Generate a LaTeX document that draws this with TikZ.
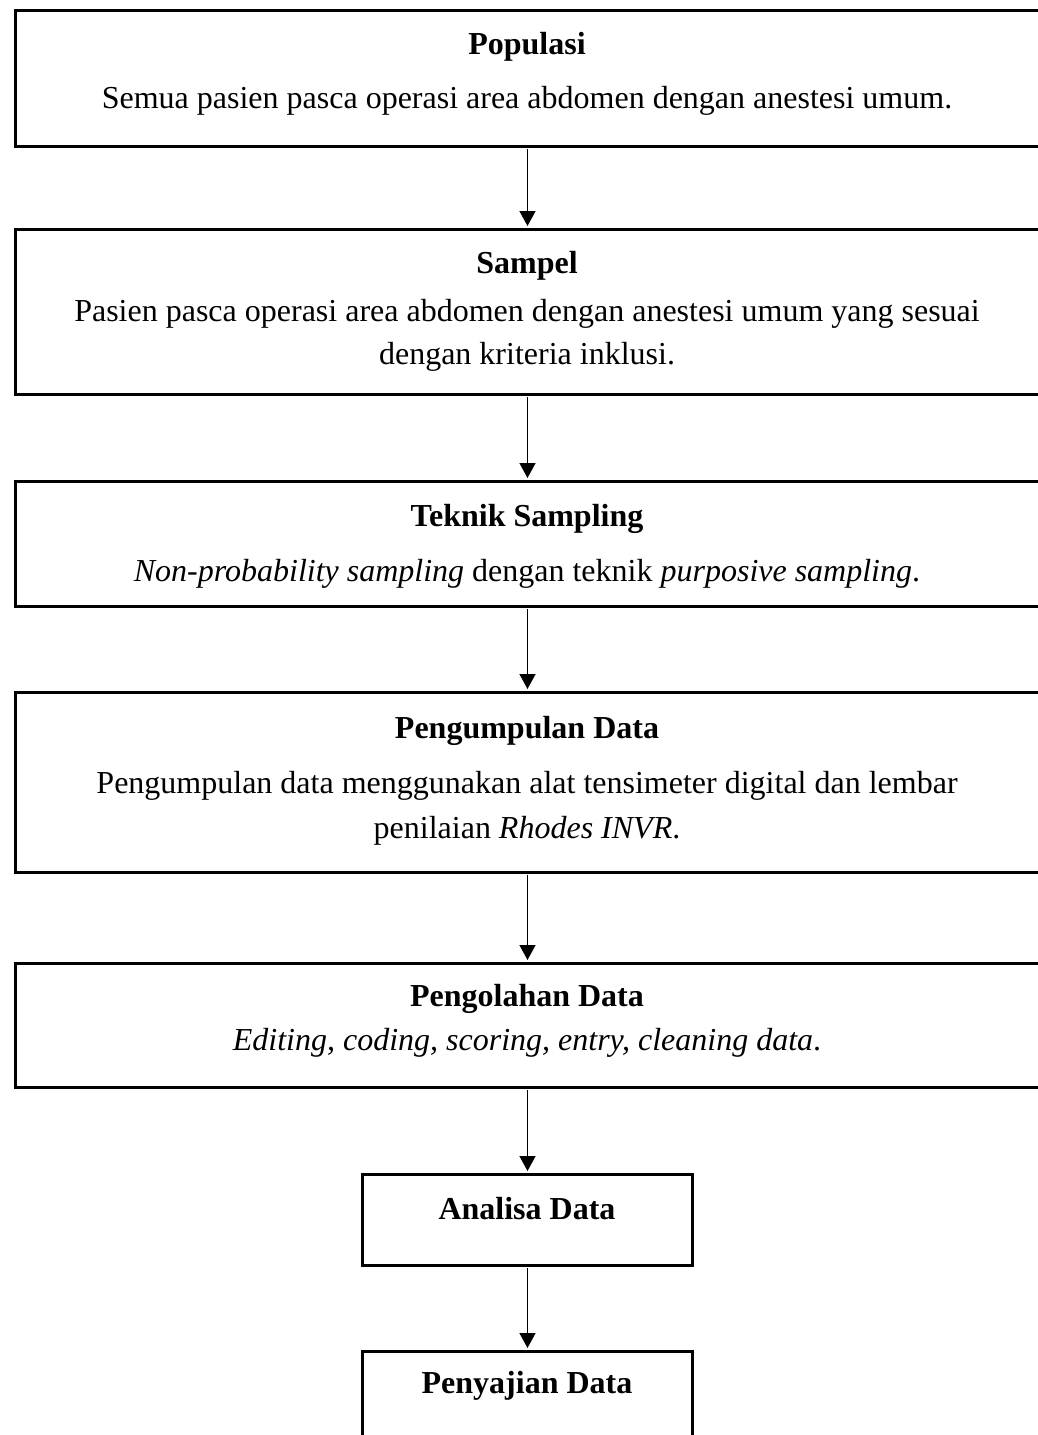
\documentclass[tikz,border=0pt]{standalone}
\usepackage{fontspec}
\setmainfont{Liberation Serif}
\usetikzlibrary{arrows.meta}
\begin{document}
\begin{tikzpicture}[x=1pt,y=-1pt,
  box/.style={draw=black, line width=3pt, rectangle, inner sep=0pt, fill=none},
  txt/.style={anchor=base, inner sep=0pt, font=\fontsize{32}{38}\selectfont},
  ttl/.style={txt, font=\fontsize{32}{38}\selectfont\bfseries},
  arr/.style={line width=1.4pt, -{Triangle[width=16pt,length=15pt]}, shorten >=1.5pt, shorten <=1.5pt}]
\useasboundingbox (0,0) rectangle (1038,1435);
\begin{scope}
\clip (0,0) rectangle (1038,1435);
\node[box, minimum width=1025pt, minimum height=136pt] (b1) at (527.5,78) {};
\node[box, minimum width=1025pt, minimum height=165pt] (b2) at (527.5,311.5) {};
\node[box, minimum width=1025pt, minimum height=125pt] (b3) at (527.5,543.5) {};
\node[box, minimum width=1025pt, minimum height=180pt] (b4) at (527.5,782) {};
\node[box, minimum width=1025pt, minimum height=124pt] (b5) at (527.5,1025) {};
\node[box, minimum width=330pt, minimum height=91pt] (b6) at (527.5,1219.5) {};
\node[box, minimum width=330pt, minimum height=110pt] (b7) at (527.5,1406) {};
\end{scope}

\node[ttl] (t1) at (527,54) {Populasi};
\node[txt] (s1) at (527,108) {Semua pasien pasca operasi area abdomen dengan anestesi umum.};

\node[ttl] (t2) at (527,273) {Sampel};
\node[txt] (s2a) at (527,321) {Pasien pasca operasi area abdomen dengan anestesi umum yang sesuai};
\node[txt] (s2b) at (527,364) {dengan kriteria inklusi.};

\node[ttl] (t3) at (527,526) {Teknik Sampling};
\node[txt] (s3) at (527,581) {\textit{Non-probability sampling} dengan teknik \textit{purposive sampling}.};

\node[ttl] (t4) at (527,738) {Pengumpulan Data};
\node[txt] (s4a) at (527,793) {Pengumpulan data menggunakan alat tensimeter digital dan lembar};
\node[txt] (s4b) at (527,838) {penilaian \textit{Rhodes INVR}.};

\node[ttl] (t5) at (527,1006) {Pengolahan Data};
\node[txt] (s5) at (527,1050) {\textit{Editing, coding, scoring, entry, cleaning data}.};

\node[ttl] (t6) at (527,1219) {Analisa Data};
\node[ttl] (t7) at (527,1393) {Penyajian Data};

\draw[arr] (b1.south) -- (b2.north);
\draw[arr] (b2.south) -- (b3.north);
\draw[arr] (b3.south) -- (b4.north);
\draw[arr] (b4.south) -- (b5.north);
\draw[arr] (b5.south) -- (b6.north);
\draw[arr] (b6.south) -- (b7.north);
\end{tikzpicture}
\end{document}
